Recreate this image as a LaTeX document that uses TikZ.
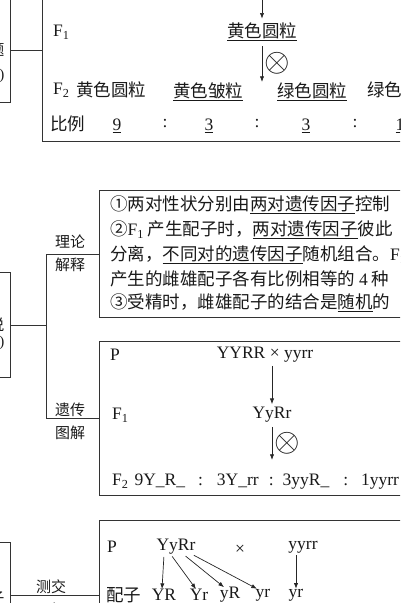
\documentclass[tikz,border=0pt]{standalone}
\usepackage{fontspec}
\setmainfont{Liberation Serif}
\newfontfamily\cjk{Noto Sans CJK SC}
\usetikzlibrary{arrows.meta}
\colorlet{framegray}{black!80}
\newcommand\uln[1]{\underline{#1}}
\newcommand\lat[1]{{\rmfamily #1}}
\tikzset{
  box/.style={draw=framegray, line width=0.9pt, inner sep=0pt, anchor=north west},
  link/.style={draw=framegray, line width=0.9pt},
  down/.style={-{Latex[length=2mm,width=1.5mm]}, line width=0.7pt, black!85},
  txt/.style={font=\cjk\fontsize{17.5}{24.5}\selectfont, inner sep=0pt, text=black!90},
  lbl/.style={font=\cjk\fontsize{15}{23}\selectfont, inner sep=0pt, align=center, text=black!90},
  sliver/.style={font=\cjk\fontsize{15}{17}\selectfont, inner sep=0pt, anchor=east, text=black!90},
}

\begin{document}
\begin{tikzpicture}[x=1pt,y=-1pt]
  \useasboundingbox (0,0) rectangle (400,603);
  \clip (0,0) rectangle (400,603);

  % left column (cut off)
  \node[box, minimum width=40, minimum height=104] (lbox1) at (-30,-2) {};
  \node[box, minimum width=40, minimum height=105] (lbox2) at (-30,272) {};
  \node[box, minimum width=40, minimum height=106] (lbox3) at (-30,542) {};
  \node[sliver] (s1) at (4.5,50) {问题};
  \node[sliver] (s2) at (4.5,75) {(现象\lat{)}};
  \node[sliver] (s3) at (4.5,325) {假说};
  \node[sliver] (s4) at (4.5,342) {(解释\lat{)}};
  \node[sliver] (s5) at (4.5,598) {配子};

  % experiment
  \node[box, minimum width=380, minimum height=181] (expbox) at (42,-40) {};
  \draw[link] (lbox1.east) -- (lbox1.east -| expbox.west);
  \coordinate (ptop) at (262,-2);
  \node[txt, anchor=west] (fonelbl) at (53,32) {\lat{F\textsubscript{1}}};
  \node[txt] (fone) at (262,32) {\uln{黄色圆粒}};
  \draw[down, shorten >=4pt] (ptop) -- (fone.north);
  \coordinate (ftwotop) at (262,82);
  \draw[down, shorten <=5pt] (fone.south) -- (ftwotop);
  \node[txt] (selfa) at (277,63) {\scalebox{1.9}{$\otimes$}};
  \node[txt, anchor=west] (ftwolbl) at (53,90) {\lat{F\textsubscript{2}}};
  \node[txt] (yround) at (111,90) {黄色圆粒};
  \node[txt] (ywrink) at (208,92) {\uln{黄色皱粒}};
  \node[txt] (ground) at (312,92) {\uln{绿色圆粒}};
  \node[txt, anchor=west] (gwrink) at (367,90) {绿色皱粒};
  \node[txt, anchor=west] (ratio) at (50,124) {比例};
  \node[txt] (rnine) at (117,126) {\lat{\uln{9}}};
  \node[txt] (cola) at (165,124) {\lat{:}};
  \node[txt] (rthreea) at (209,126) {\lat{\uln{3}}};
  \node[txt] (colb) at (257,124) {\lat{:}};
  \node[txt] (rthreeb) at (306,126) {\lat{\uln{3}}};
  \node[txt] (colc) at (355,124) {\lat{:}};
  \node[txt] (rone) at (400,126) {\lat{\uln{1}}};

  % theory
  \node[box, minimum width=320, minimum height=127] (theory) at (99,190) {};
  \node[box, minimum width=320, minimum height=154] (gene) at (99,341) {};
  \coordinate (fork) at (46,0);
  \draw[link] (lbox2.east) -- (lbox2.east -| fork);
  \draw[link] (theory.west) -| (fork |- gene.west) -- (gene.west);
  \node[lbl] (thlbl) at (70,253) {理论\\解释};
  \node[lbl] (gnlbl) at (70,421) {遗传\\图解};
  \node[txt, anchor=west] (tha) at (110,205) {①两对性状分别由\uln{两对遗传因子}控制};
  \node[txt, anchor=west] (thb) at (110,230) {②\lat{F\textsubscript{1}} 产生配子时，\uln{两对遗传因子}彼此};
  \node[txt, anchor=west] (thc) at (110,255) {分离，\uln{不同对的遗传因子}随机组合。\lat{F\textsubscript{1}}};
  \node[txt, anchor=west] (thd) at (110,279) {产生的雌雄配子各有比例相等的 \lat{4} 种};
  \node[txt, anchor=west] (the) at (110,303) {③受精时，雌雄配子的结合是\uln{随机}的};

  % genetic diagram
  \node[txt, anchor=west] (gp) at (110,355) {\lat{P}};
  \node[txt] (gpair) at (265,355) {\lat{YYRR × yyrr}};
  \node[txt, anchor=west] (gfonelbl) at (112,415) {\lat{F\textsubscript{1}}};
  \node[txt] (gfone) at (272,415) {\lat{YyRr}};
  \draw[down, shorten <=3pt, shorten >=3pt] (gpair.south -| gfone.north) -- (gfone.north);
  \coordinate (gftwotop) at (272,460);
  \draw[down, shorten <=4pt] (gfone.south) -- (gftwotop);
  \node[txt] (selfb) at (287,443) {\scalebox{1.9}{$\otimes$}};
  \node[txt, anchor=west] (gftwo) at (112,482) {\lat{F\textsubscript{2}\hspace{6pt}9Y\_R\_\hspace{13pt}:\hspace{14pt}3Y\_rr\hspace{10pt}:\hspace{9pt}3yyR\_\hspace{14pt}:\hspace{13pt}1yyrr}};

  % test cross
  \node[box, minimum width=320, minimum height=150] (testbox) at (99,520) {};
  \draw[link] (lbox3.east) -- (lbox3.east -| testbox.west);
  \node[lbl] (tclbl) at (51,598) {测交\\图解};
  \node[txt, anchor=west] (tp) at (107,547) {\lat{P}};
  \node[txt] (tpa) at (176,547) {\lat{YyRr}};
  \node[txt] (tx) at (240,550) {\lat{×}};
  \node[txt] (tpb) at (303,547) {\lat{yyrr}};
  \node[txt, anchor=west] (gam) at (106,595) {配子};
  \node[txt] (ga) at (164,595) {\lat{YR}};
  \node[txt] (gb) at (199,595) {\lat{Yr}};
  \node[txt] (gc) at (230,595) {\lat{yR}};
  \node[txt] (gd) at (263,595) {\lat{yr}};
  \node[txt] (ge) at (296,595) {\lat{yr}};
  \draw[down, shorten <=2pt] ([xshift=-12pt]tpa.south) -- ([xshift=-2pt]ga.north);
  \draw[down, shorten <=2pt] ([xshift=-5pt]tpa.south) -- ([xshift=-3pt]gb.north);
  \draw[down, shorten <=2pt] ([xshift=8pt]tpa.south) -- ([xshift=-6pt]gc.north);
  \draw[down, shorten <=1pt] ([xshift=17pt]tpa.south) -- ([xshift=-6pt]gd.north);
  \draw[down, shorten <=2pt] (ge.north |- tpb.south) -- (ge.north);
\end{tikzpicture}
\end{document}
